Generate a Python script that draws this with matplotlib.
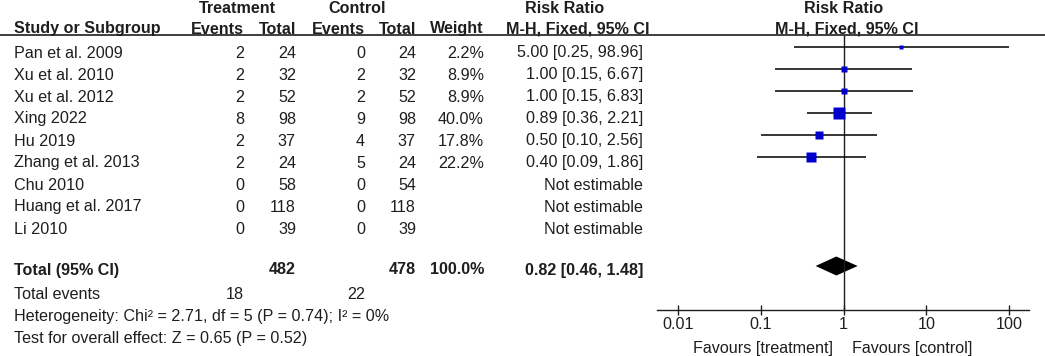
import matplotlib
matplotlib.use("Agg")
import matplotlib.pyplot as plt
import numpy as np

plt.rcParams['font.family'] = ['Liberation Sans', 'DejaVu Sans']
plt.rcParams['font.size'] = 11.6

# data
studies = ["Pan et al. 2009", "Xu et al. 2010", "Xu et al. 2012", "Xing 2022",
           "Hu 2019", "Zhang et al. 2013", "Chu 2010", "Huang et al. 2017", "Li 2010"]
events_t = [2, 2, 2, 8, 2, 2, 0, 0, 0]
total_t = [24, 32, 52, 98, 37, 24, 58, 118, 39]
events_c = [0, 2, 2, 9, 4, 5, 0, 0, 0]
total_c = [24, 32, 52, 98, 37, 24, 54, 118, 39]
weight = [2.2, 8.9, 8.9, 40.0, 17.8, 22.2, None, None, None]
rr = [5.00, 1.00, 1.00, 0.89, 0.50, 0.40, None, None, None]
rr_lo = [0.25, 0.15, 0.15, 0.36, 0.10, 0.09, None, None, None]
rr_hi = [98.96, 6.67, 6.83, 2.21, 2.56, 1.86, None, None, None]

total_n_t, total_n_c = 482, 478
total_ev_t, total_ev_c = 18, 22
total_rr, total_lo, total_hi = 0.82, 0.46, 1.48
het_text = "Heterogeneity: Chi² = 2.71, df = 5 (P = 0.74); I² = 0%"
test_text = "Test for overall effect: Z = 0.65 (P = 0.52)"
xticks = [0.01, 0.1, 1, 10, 100]
xtick_labels = ["0.01", "0.1", "1", "10", "100"]

W, H = 1045, 356
fig = plt.figure(figsize=(W / 100, H / 100), dpi=100)
tc = "#1e1e1e"

# text layer in pixel coordinates
ax0 = fig.add_axes([0, 0, 1, 1])
ax0.set_xlim(0, W)
ax0.set_ylim(H, 0)
ax0.axis("off")

# column anchors
x_name = 14
x_ev_t, x_tot_t, x_ev_c, x_tot_c, x_w, x_ci = 244, 296, 365, 416, 484, 643

# headers
ax0.text(237, 13, "Treatment", ha="center", va="baseline", fontweight="bold", color=tc)
ax0.text(357, 13, "Control", ha="center", va="baseline", fontweight="bold", color=tc)
ax0.text(565, 13, "Risk Ratio", ha="center", va="baseline", fontweight="bold", color=tc)
ax0.text(844, 13, "Risk Ratio", ha="center", va="baseline", fontweight="bold", color=tc)
hy = 33.5
ax0.text(x_name, hy, "Study or Subgroup", ha="left", va="baseline", fontweight="bold", color=tc)
for x, s in [(x_ev_t, "Events"), (x_tot_t, "Total"), (x_ev_c, "Events"),
             (x_tot_c, "Total"), (x_w, "Weight"), (650, "M-H, Fixed, 95% CI")]:
    ax0.text(x, hy, s, ha="right", va="baseline", fontweight="bold", color=tc)
ax0.text(847, hy, "M-H, Fixed, 95% CI", ha="center", va="baseline", fontweight="bold", color=tc)
ax0.axhline(35, color=tc, lw=1.2)

row_y = [47 + 22 * i for i in range(len(studies))]
for i, y in enumerate(row_y):
    b = y + 10.5
    ax0.text(x_name, b, studies[i], ha="left", va="baseline", color=tc)
    ax0.text(x_ev_t, b, str(events_t[i]), ha="right", va="baseline", color=tc)
    ax0.text(x_tot_t, b, str(total_t[i]), ha="right", va="baseline", color=tc)
    ax0.text(x_ev_c, b, str(events_c[i]), ha="right", va="baseline", color=tc)
    ax0.text(x_tot_c, b, str(total_c[i]), ha="right", va="baseline", color=tc)
    if weight[i] is not None:
        ax0.text(x_w, b, f"{weight[i]:.1f}%", ha="right", va="baseline", color=tc)
        ci = f"{rr[i]:.2f} [{rr_lo[i]:.2f}, {rr_hi[i]:.2f}]"
    else:
        ci = "Not estimable"
    ax0.text(x_ci, b, ci, ha="right", va="baseline", color=tc)

# total rows
tb = 274.5
ax0.text(x_name, tb, "Total (95% CI)", ha="left", va="baseline", fontweight="bold", color=tc)
ax0.text(x_tot_t, tb, str(total_n_t), ha="right", va="baseline", fontweight="bold", color=tc)
ax0.text(x_tot_c, tb, str(total_n_c), ha="right", va="baseline", fontweight="bold", color=tc)
ax0.text(x_w, tb, "100.0%", ha="right", va="baseline", fontweight="bold", color=tc)
ax0.text(x_ci, tb, f"{total_rr:.2f} [{total_lo:.2f}, {total_hi:.2f}]",
         ha="right", va="baseline", fontweight="bold", color=tc)
ax0.text(x_name, 299, "Total events", ha="left", va="baseline", color=tc)
ax0.text(x_ev_t, 299, str(total_ev_t), ha="right", va="baseline", color=tc)
ax0.text(x_ev_c, 299, str(total_ev_c), ha="right", va="baseline", color=tc)
ax0.text(x_name, 321, het_text, ha="left", va="baseline", color=tc)
ax0.text(x_name, 343, test_text, ha="left", va="baseline", color=tc)

ax0.text(833, 353, "Favours [treatment]", ha="right", va="baseline", color=tc)
ax0.text(852, 353, "Favours [control]", ha="left", va="baseline", color=tc)

# forest panel, log scale
ax = fig.add_axes([657 / W, 0, (1029 - 657) / W, 1])
ax.patch.set_alpha(0)
ax.set_xscale("log")
ax.set_xlim(10 ** -2.253, 10 ** 2.24)
ax.set_ylim(H, 0)
for s in ["top", "left", "right"]:
    ax.spines[s].set_visible(False)
ax.spines["bottom"].set_position(("data", 310))
ax.spines["bottom"].set_color(tc)
ax.spines["bottom"].set_linewidth(1.0)
ax.set_yticks([])
ax.set_xticks(xticks)
ax.set_xticklabels(xtick_labels)
ax.xaxis.set_minor_locator(matplotlib.ticker.NullLocator())
ax.tick_params(axis="x", direction="inout", length=7.5, width=1.0, pad=1.5,
               colors=tc, labelsize=11.6)

ax.vlines(1, 35, 310, color=tc, lw=1.0)

for i, y in enumerate(row_y):
    if weight[i] is None:
        continue
    ax.hlines(y, rr_lo[i], rr_hi[i], color="black", lw=1.1)
    side_pt = (1.5 + 1.65 * np.sqrt(weight[i])) * 0.72
    ax.plot(rr[i], y, marker="s", ms=side_pt, color="#0000cc", mec="none")

dy = 266
ax.fill([total_lo, total_rr, total_hi, total_rr], [dy, dy - 9.5, dy, dy + 9.5],
        color="black", lw=0)

fig.savefig("out.png", dpi=100)
